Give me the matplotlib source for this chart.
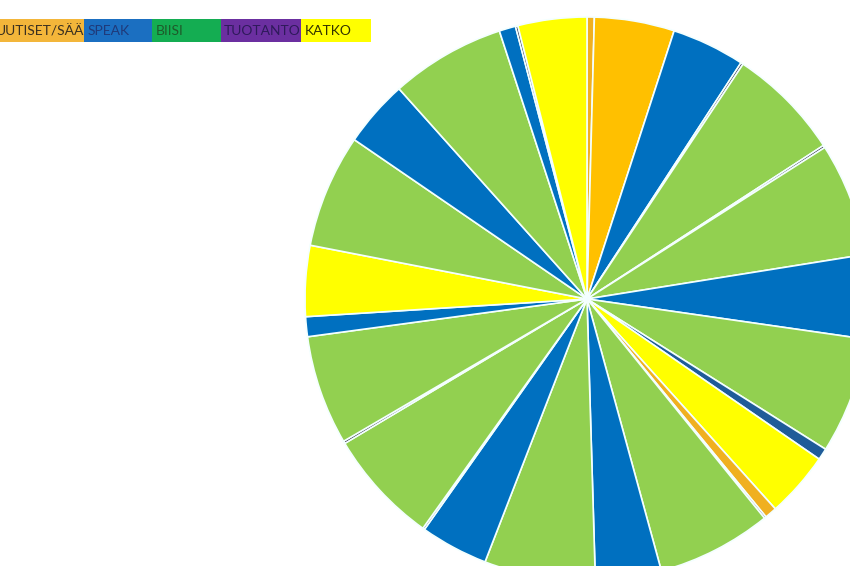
import matplotlib
matplotlib.use("Agg")
import matplotlib.pyplot as plt
from matplotlib.patches import Rectangle

# legend categories (top-left strip)
categories = ["UUTISET/SÄÄ", "SPEAK", "BIISI", "TUOTANTO", "KATKO"]
cat_colors = ["#F3B63A", "#1B6FC1", "#14AD52", "#6B2FA0", "#FFFF00"]
cat_text_colors = ["#3a3020", "#1F3A7A", "#1E5A2A", "#2E1A5A", "#333300"]

# clock slices, clockwise from 12 o'clock (degrees)
slice_sizes = [1.5, 16.5, 15.1, 0.5, 23.4, 0.5, 23.4, 17.3, 24.0, 2.4,
               13.5, 2.5, 0.4, 23.7, 13.6, 22.9, 14.0, 0.4, 23.6, 0.5,
               22.6, 4.1, 14.6, 23.4, 13.8, 23.7, 3.4, 0.5, 14.2]
slice_kinds = ["uutiset2", "uutiset", "speak", "tuotanto", "biisi", "tuotanto",
               "biisi", "speak", "biisi", "speak2", "katko", "uutiset2",
               "tuotanto", "biisi", "speak", "biisi", "speak", "tuotanto",
               "biisi", "tuotanto", "biisi", "speak", "katko", "biisi",
               "speak", "biisi", "speak", "tuotanto", "katko"]

kind_colors = {
    "uutiset": "#FFC000",
    "uutiset2": "#F0B020",
    "speak": "#0070C0",
    "speak2": "#1F5C99",
    "biisi": "#92D050",
    "tuotanto": "#2A2A40",
    "katko": "#FFFF00",
}

fig = plt.figure(figsize=(8.5, 5.66), dpi=100)
fig.patch.set_facecolor("white")

# pie axes: centre at (587, 299) px from top-left, radius 282 px
W, H = 850, 566
cx, cy, R = 587, 299, 282
ax = fig.add_axes([(cx - R) / W, (H - (cy + R)) / H, 2 * R / W, 2 * R / H])
ax.pie(slice_sizes,
       colors=[kind_colors[k] for k in slice_kinds],
       startangle=90,
       counterclock=False,
       radius=1.0,
       wedgeprops=dict(edgecolor="#F4FFFF", linewidth=1.2))
ax.set_xlim(-1, 1)
ax.set_ylim(-1, 1)
ax.axis("off")

# legend strip drawn in pixel space
lax = fig.add_axes([0, 0, 1, 1], facecolor="none")
lax.set_xlim(0, W)
lax.set_ylim(H, 0)
lax.axis("off")

box_left = [0, 84, 152, 221, 301]
box_right = [84, 152, 221, 301, 371]
text_x = [-4, 88, 156, 224, 305]
for i, name in enumerate(categories):
    lax.add_patch(Rectangle((box_left[i], 19), box_right[i] - box_left[i], 23,
                            facecolor=cat_colors[i], edgecolor="none"))
    lax.text(text_x[i], 31, name, color=cat_text_colors[i],
             fontsize=10, family=["Lato", "DejaVu Sans"],
             ha="left", va="center")

fig.savefig("out.png", dpi=100)
